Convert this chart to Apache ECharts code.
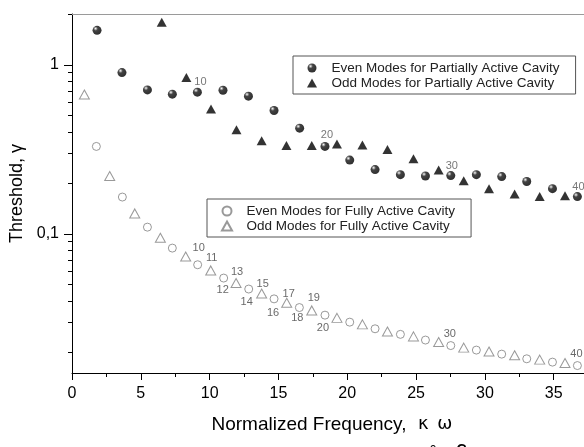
<!DOCTYPE html>
<html>
<head>
<meta charset="utf-8">
<script src="https://cdn.jsdelivr.net/npm/echarts@6/dist/echarts.min.js"></script>
<style>
  html, body { margin: 0; padding: 0; background: #fff; }
  #chart { width: 584px; height: 447px; }
</style>
</head>
<body>
<div id="chart"></div>
<script>
// Mode numbers, normalized frequencies and lasing thresholds
const partialEvenModes = [2, 4, 6, 8, 10, 12, 14, 16, 18, 20, 22, 24, 26, 28, 30, 32, 34, 36, 38, 40];
const partialEvenFreq = [1.82, 3.63, 5.48, 7.29, 9.11, 10.97, 12.82, 14.68, 16.54, 18.38, 20.18, 22.02, 23.86, 25.68, 27.52, 29.38, 31.22, 33.04, 34.91, 36.72];
const partialEvenThreshold = [1.60, 0.90, 0.711, 0.671, 0.689, 0.708, 0.653, 0.537, 0.422, 0.329, 0.273, 0.240, 0.224, 0.220, 0.221, 0.224, 0.218, 0.204, 0.185, 0.166];

const partialOddModes = [7, 9, 11, 13, 15, 17, 19, 21, 23, 25, 27, 29, 31, 33, 35, 37, 39];
const partialOddFreq = [6.52, 8.31, 10.10, 11.95, 13.78, 15.58, 17.42, 19.25, 21.10, 22.92, 24.81, 26.64, 28.46, 30.30, 32.16, 33.98, 35.82];
const partialOddThreshold = [1.79, 0.841, 0.547, 0.413, 0.355, 0.333, 0.333, 0.340, 0.336, 0.315, 0.278, 0.239, 0.206, 0.185, 0.172, 0.166, 0.168];

const fullEvenModes = [2, 4, 6, 8, 10, 12, 14, 16, 18, 20, 22, 24, 26, 28, 30, 32, 34, 36, 38, 40];
const fullEvenFreq = [1.77, 3.66, 5.48, 7.29, 9.13, 11.02, 12.84, 14.68, 16.52, 18.38, 20.18, 22.02, 23.86, 25.68, 27.52, 29.38, 31.22, 33.04, 34.91, 36.72];
const fullEvenThreshold = [0.329, 0.165, 0.1095, 0.0823, 0.0656, 0.0547, 0.0471, 0.0412, 0.0366, 0.0330, 0.0300, 0.0274, 0.0254, 0.0235, 0.0218, 0.0205, 0.0194, 0.0182, 0.0174, 0.0166];

const fullOddModes = [1, 3, 5, 7, 9, 11, 13, 15, 17, 19, 21, 23, 25, 27, 29, 31, 33, 35, 37, 39];
const fullOddFreq = [0.90, 2.74, 4.56, 6.42, 8.26, 10.08, 11.92, 13.78, 15.60, 17.42, 19.25, 21.10, 22.92, 24.81, 26.64, 28.46, 30.30, 32.16, 33.98, 35.82];
const fullOddThreshold = [0.667, 0.220, 0.132, 0.0947, 0.0734, 0.0607, 0.0511, 0.0443, 0.0391, 0.0352, 0.0318, 0.0291, 0.0264, 0.0247, 0.0229, 0.0212, 0.0201, 0.0191, 0.0180, 0.0172];

// Modes whose number is printed next to the marker
const partialLabelModes = [10, 20, 30, 40];
const fullLabelModes = [10, 11, 12, 13, 14, 15, 16, 17, 18, 19, 20, 30, 40];

// Axis ticks
const xMajorTicks = [0, 5, 10, 15, 20, 25, 30, 35];
const xMinorTicks = [2.5, 7.5, 12.5, 17.5, 22.5, 27.5, 32.5];
const yMajorTicks = [0.1, 1];
const yMinorTicks = [0.02, 0.03, 0.04, 0.05, 0.06, 0.07, 0.08, 0.09, 0.2, 0.3, 0.4, 0.5, 0.6, 0.7, 0.8, 0.9, 2];

const legendNames = [
  'Even Modes for Partially Active Cavity',
  'Odd Modes for Partially Active Cavity',
  'Even Modes for Fully Active Cavity',
  'Odd Modes for Fully Active Cavity'
];

const FONT = '"Liberation Sans", Arial, sans-serif';

// Pixel offsets of the mode-number labels relative to their markers
const labelOffset = {
  partial: { 10: [3, -10], 20: [2, -11], 30: [1, -10], 40: [1, -10] },
  full: {
    10: [1, -17], 11: [1, -12], 12: [-1, 12], 13: [1, -11], 14: [-2, 13],
    15: [1, -10], 16: [-1, 14], 17: [2, -9], 18: [-2, 10], 19: [2, -12],
    20: [-2, 13], 30: [-1, -12], 40: [-1, -12]
  }
};

function buildData(modes, freq, thr, labelModes, offsets) {
  return modes.map((m, i) => {
    const item = { value: [freq[i], thr[i]] };
    if (labelModes.indexOf(m) >= 0 && offsets[m]) {
      item.label = { show: true, formatter: String(m), offset: offsets[m] };
    }
    return item;
  });
}

// Glossy black bead for the partially active even modes
const ballFill = new echarts.graphic.RadialGradient(0.34, 0.3, 0.62, [
  { offset: 0, color: '#ffffff' },
  { offset: 0.16, color: '#9a9a9a' },
  { offset: 0.4, color: '#151515' },
  { offset: 1, color: '#000' }
]);

function labelStyle(color) {
  return { show: false, position: 'inside', fontSize: 11, color: color, fontFamily: FONT };
}

const series = [
  {
    name: legendNames[0], type: 'scatter', symbol: 'circle', symbolSize: 9,
    itemStyle: { color: ballFill },
    label: labelStyle('#555'),
    data: buildData(partialEvenModes, partialEvenFreq, partialEvenThreshold, partialLabelModes, labelOffset.partial)
  },
  {
    name: legendNames[1], type: 'scatter', symbol: 'triangle', symbolSize: [10, 9],
    itemStyle: { color: '#000' },
    label: labelStyle('#555'),
    data: buildData(partialOddModes, partialOddFreq, partialOddThreshold, partialLabelModes, labelOffset.partial)
  },
  {
    name: legendNames[2], type: 'scatter', symbol: 'circle', symbolSize: 8,
    itemStyle: { color: '#fff', borderColor: '#808080', borderWidth: 1 },
    label: labelStyle('#444'),
    data: buildData(fullEvenModes, fullEvenFreq, fullEvenThreshold, fullLabelModes, labelOffset.full)
  },
  {
    name: legendNames[3], type: 'scatter', symbol: 'triangle', symbolSize: [10, 9],
    itemStyle: { color: '#fff', borderColor: '#808080', borderWidth: 1 },
    label: labelStyle('#444'),
    data: buildData(fullOddModes, fullOddFreq, fullOddThreshold, fullLabelModes, labelOffset.full)
  }
];

const legendCommon = {
  orient: 'vertical',
  itemWidth: 10,
  itemHeight: 9,
  itemGap: 1,
  padding: [5, 16, 4, 14],
  borderColor: '#555',
  borderWidth: 1,
  backgroundColor: '#fff',
  selectedMode: false,
  textStyle: { fontSize: 13.5, lineHeight: 14, color: '#222', fontFamily: FONT, padding: [0, 0, 0, 9.5] }
};

const chart = echarts.init(document.getElementById('chart'), null, { renderer: 'canvas' });
chart.setOption({
  animation: false,
  backgroundColor: '#fff',
  grid: { left: 72, right: 0, top: 14, bottom: 74, containLabel: false, outerBoundsMode: 'none' },
  legend: [
    Object.assign({}, legendCommon, { left: 293, top: 56, data: legendNames.slice(0, 2) }),
    Object.assign({}, legendCommon, { left: 207, top: 199, data: legendNames.slice(2, 4) })
  ],
  xAxis: [
    {
      type: 'value', min: 0, max: 37.2, position: 'bottom',
      axisLine: { show: true, lineStyle: { color: '#000', width: 1 } },
      axisTick: { show: true, customValues: xMajorTicks, length: 7, lineStyle: { color: '#000' } },
      axisLabel: { customValues: xMajorTicks, fontSize: 16, margin: 13, color: '#000', fontFamily: FONT },
      splitLine: { show: false },
      name: '{t|Normalized Frequency,  }{g|κ}{s|0}{g|ω}{c|C}{h|\u200b}',
      nameLocation: 'middle',
      nameGap: 42,
      nameTextStyle: {
        color: '#000',
        rich: {
          t: { fontSize: 19, fontFamily: FONT, color: '#000', verticalAlign: 'top', lineHeight: 20, padding: [0, 0, 0, 22] },
          g: { fontSize: 18, fontFamily: '"DejaVu Sans", sans-serif', color: '#000', verticalAlign: 'top', lineHeight: 20, padding: [0, 1, 0, 1] },
          s: { fontSize: 12, fontFamily: FONT, color: '#000', verticalAlign: 'bottom', lineHeight: 14 },
          c: { fontSize: 14, fontWeight: 'bold', fontFamily: FONT, color: '#000', verticalAlign: 'bottom', lineHeight: 20, padding: [0, 0, 0, 3] },
          h: { fontSize: 12, lineHeight: 42 }
        }
      }
    },
    {
      type: 'value', min: 0, max: 37.2, position: 'bottom',
      axisLine: { show: false },
      axisTick: { show: true, customValues: xMinorTicks, length: 4, lineStyle: { color: '#000' } },
      axisLabel: { show: false },
      splitLine: { show: false }
    },
    {
      type: 'value', min: 0, max: 37.2, position: 'top',
      axisLine: { show: true, lineStyle: { color: '#9a9a9a', width: 1 } },
      axisTick: { show: false },
      axisLabel: { show: false },
      splitLine: { show: false }
    }
  ],
  yAxis: [
    {
      type: 'log', logBase: 10, min: 0.015, max: 2, position: 'left',
      axisLine: { show: true, lineStyle: { color: '#000', width: 1 } },
      axisTick: { show: true, customValues: yMajorTicks, length: 8, lineStyle: { color: '#000' } },
      axisLabel: {
        customValues: yMajorTicks, fontSize: 16, margin: 13, color: '#000', fontFamily: FONT,
        formatter: v => String(Math.round(v * 1000) / 1000).replace('.', ',')
      },
      splitLine: { show: false },
      name: 'Threshold, γ',
      nameLocation: 'middle',
      nameGap: 44,
      nameTextStyle: { fontSize: 18, fontFamily: FONT, color: '#000' }
    },
    {
      type: 'log', logBase: 10, min: 0.015, max: 2, position: 'left',
      axisLine: { show: false },
      axisTick: { show: true, customValues: yMinorTicks, length: 4, lineStyle: { color: '#000' } },
      axisLabel: { show: false },
      splitLine: { show: false }
    }
  ],
  series: series
});
</script>
</body>
</html>
